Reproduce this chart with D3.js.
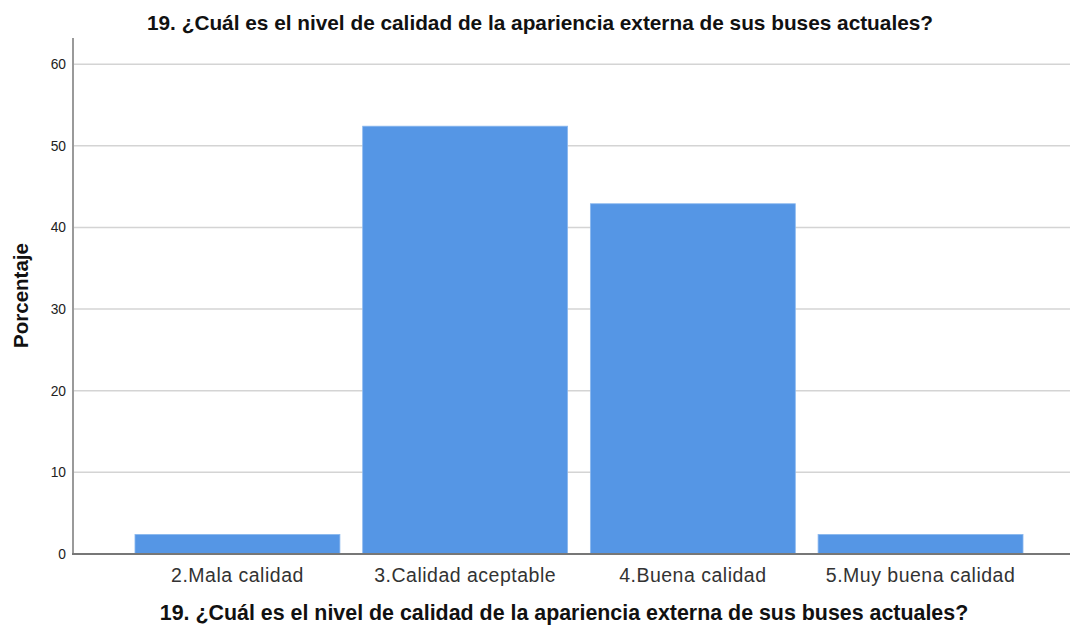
<!DOCTYPE html>
<html>
<head>
<meta charset="utf-8">
<script src="https://cdn.jsdelivr.net/npm/d3@7"></script>
<style>
  body { margin: 0; background: #fff; }
  text { font-family: "Liberation Sans", Arial, sans-serif; }
</style>
</head>
<body>
<svg id="chart" width="1070" height="626"></svg>
<script>
const categories = ["2.Mala calidad", "3.Calidad aceptable", "4.Buena calidad", "5.Muy buena calidad"];
const percents = [2.4, 52.4, 42.9, 2.4];
const yTicks = [0, 10, 20, 30, 40, 50, 60];
const titleText = "19. ¿Cuál es el nivel de calidad de la apariencia externa de sus buses actuales?";

const svg = d3.select("#chart");
const plotLeft = 73, plotRight = 1070, plotTop = 38, plotBottom = 554;

const x = d3.scaleBand()
    .domain(categories)
    .range([123.6, 1034.4])
    .paddingInner(0.1)
    .paddingOuter(0.05);
const y = d3.scaleLinear().domain([0, 63.2]).range([plotBottom, plotTop]);

// gridlines
svg.append("g")
    .selectAll("line")
    .data(yTicks.filter(d => d > 0))
    .enter().append("line")
    .attr("x1", plotLeft).attr("x2", plotRight)
    .attr("y1", d => y(d)).attr("y2", d => y(d))
    .attr("stroke", "#d4d4d4").attr("stroke-width", 1.5);

// bars
svg.append("g")
    .selectAll("rect")
    .data(percents)
    .enter().append("rect")
    .attr("x", (d, i) => x(categories[i]))
    .attr("width", x.bandwidth())
    .attr("y", d => y(d))
    .attr("height", d => y(0) - y(d))
    .attr("fill", "#5596e5")
    .attr("stroke", "#8bb8ee")
    .attr("stroke-width", 0.8);

// y axis
const yAxis = d3.axisLeft(y).tickValues(yTicks).tickSize(0).tickPadding(7);
const gy = svg.append("g").attr("transform", `translate(${plotLeft},0)`).call(yAxis);
gy.select(".domain").remove();
gy.selectAll("text").attr("font-size", 13.8).attr("fill", "#222");
svg.append("line")
    .attr("x1", plotLeft).attr("x2", plotLeft).attr("y1", plotTop).attr("y2", plotBottom)
    .attr("stroke", "#9a9a9a").attr("stroke-width", 2);

// x axis
const xAxis = d3.axisBottom(x).tickSize(0).tickPadding(14);
const gx = svg.append("g").attr("transform", `translate(0,${plotBottom})`).call(xAxis);
gx.select(".domain").remove();
gx.selectAll("text")
    .attr("font-size", 19.5)
    .attr("letter-spacing", 0.5)
    .attr("fill", "#333");
svg.append("line")
    .attr("x1", plotLeft - 1).attr("x2", plotRight).attr("y1", plotBottom).attr("y2", plotBottom)
    .attr("stroke", "#777").attr("stroke-width", 2);

// titles
svg.append("text")
    .attr("x", 540).attr("y", 30)
    .attr("text-anchor", "middle")
    .attr("font-size", 20.8).attr("font-weight", "bold").attr("fill", "#111")
    .text(titleText);

svg.append("text")
    .attr("x", 564).attr("y", 620)
    .attr("text-anchor", "middle")
    .attr("font-size", 21.4).attr("font-weight", "bold").attr("fill", "#111")
    .text(titleText);

svg.append("text")
    .attr("transform", `translate(28,295.5) rotate(-90)`)
    .attr("text-anchor", "middle")
    .attr("font-size", 20.5).attr("font-weight", "bold").attr("fill", "#111")
    .text("Porcentaje");
</script>
</body>
</html>
